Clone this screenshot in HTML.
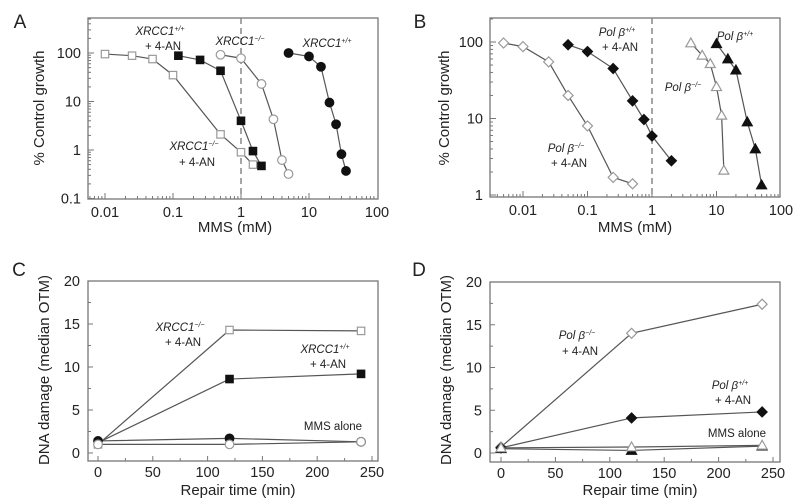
<!DOCTYPE html>
<html><head><meta charset="utf-8">
<style>
html,body{margin:0;padding:0;background:#fff;}
svg{display:block;font-family:"Liberation Sans",sans-serif;}
</style></head>
<body>
<svg id="fig" width="800" height="504" viewBox="0 0 800 504" xmlns="http://www.w3.org/2000/svg"></svg>
<script>
// ---- Panel A data ----
const aOpenSqX=[0.01,0.025,0.05,0.1,0.5,1,1.5];
const aOpenSqY=[95,88,75,35,2.1,0.9,0.5];
const aFillSqX=[0.12,0.25,0.5,1,1.5,2];
const aFillSqY=[88,72,43,4,0.95,0.47];
const aOpenCiX=[0.5,1,2,3,4,5];
const aOpenCiY=[92,78,23,4.3,0.62,0.32];
const aFillCiX=[5,10,15,20,25,30,35];
const aFillCiY=[100,85,52,9.5,3.4,0.82,0.37];
const aXTicks=[0.01,0.1,1,10,100];
const aXLabels=["0.01","0.1","1","10","100"];
const aYTicks=[0.1,1,10,100];
const aYLabels=["0.1","1","10","100"];
// ---- Panel B data ----
const bOpenDiX=[0.005,0.01,0.025,0.05,0.1,0.25,0.5];
const bOpenDiY=[97,87,55,20,8,1.7,1.4];
const bFillDiX=[0.05,0.1,0.25,0.5,0.75,1,2];
const bFillDiY=[92,75,45,17,9.7,5.9,2.8];
const bOpenTrX=[4,6,8,10,12,13];
const bOpenTrY=[97,67,52,26,11,2.1];
const bFillTrX=[10,15,20,30,40,50];
const bFillTrY=[95,60,43,9,4,1.35];
const bYTicks=[1,10,100];
const bYLabels=["1","10","100"];
// ---- Panel C data ----
const timeX=[0,120,240];
const cOpenSqY=[1.0,14.3,14.2];
const cFillSqY=[1.2,8.6,9.2];
const cFillCiY=[1.4,1.7,1.3];
const cOpenCiY=[1.0,1.0,1.3];
// ---- Panel D data ----
const dOpenDiY=[0.7,14,17.4];
const dFillDiY=[0.6,4.1,4.8];
const dOpenTrY=[0.6,0.7,0.9];
const dFillTrY=[0.5,0.3,0.8];
const linXTicks=[0,50,100,150,200,250];
const linYTicks=[0,5,10,15,20];

const NS="http://www.w3.org/2000/svg";
const svg=document.getElementById('fig');
function el(tag,attrs,parent){const e=document.createElementNS(NS,tag);for(const k in attrs)e.setAttribute(k,attrs[k]);(parent||svg).appendChild(e);return e;}
function txt(x,y,s,size,anchor,parent,extra){const t=el('text',Object.assign({x:x,y:y,'font-size':size,'text-anchor':anchor||'middle',fill:'#222'},extra||{}),parent);t.textContent=s;return t;}

const L=Math.log10;
const axA={x:v=>241+68*L(v), y:v=>150+48.5*(0-L(v)), box:[88,18,378,199]};
const axB={x:v=>652+64.5*L(v), y:v=>195-76.5*L(v), box:[490,18,780,197]};
const axC={x:v=>98+v*274/250, y:v=>453-v*8.6, box:[88,281,378,461]};
const axD={x:v=>501+v*272/250, y:v=>453-v*8.55, box:[490,282,780,462]};

function box(ax,name){const b=ax.box;const r=el('rect',{x:b[0],y:b[1],width:b[2]-b[0],height:b[3]-b[1],fill:'none',stroke:'#777','stroke-width':1.3});

}

function marker(g,shape,x,y,filled){
  const f=filled?'#111':'#fff', s=filled?'#111':'#999', sw=1.2;
  let m;
  if(shape==='sq') m=el('rect',{x:x-3.7,y:y-3.7,width:7.4,height:7.4,fill:f,stroke:s,'stroke-width':sw},g);
  else if(shape==='ci') m=el('circle',{cx:x,cy:y,r:4.3,fill:f,stroke:s,'stroke-width':sw},g);
  else if(shape==='di') m=el('polygon',{points:`${x},${y-5} ${x+5},${y} ${x},${y+5} ${x-5},${y}`,fill:f,stroke:s,'stroke-width':sw},g);
  else m=el('polygon',{points:`${x},${y-5} ${x+5},${y+3.8} ${x-5},${y+3.8}`,fill:f,stroke:s,'stroke-width':sw},g);
  
  
}
function series(ax,xs,ys,shape,filled,name){
  const g=el('g',{});
  
  
  const pts=xs.map((v,i)=>ax.x(v)+','+ax.y(ys[i])).join(' ');
  el('polyline',{points:pts,fill:'none',stroke:'#555','stroke-width':1.2},g);
  xs.forEach((v,i)=>marker(g,shape,ax.x(v),ax.y(ys[i]),filled));
}
function logAxes(ax,xmin,xmax,ymin,ymax,xt,xl,yt,yl,pfx){
  const b=ax.box;const g=el('g',{stroke:'#777','stroke-width':1});
  
  
  for(let d=Math.floor(L(xmin));d<L(xmax);d++){for(let k=1;k<10;k++){const v=k*Math.pow(10,d);if(v<xmin||v>xmax)continue;const x=ax.x(v);el('line',{x1:x,x2:x,y1:b[3],y2:b[3]-(k===1?6:3)},g);}}
  for(let d=Math.floor(L(ymin));d<L(ymax);d++){for(let k=1;k<10;k++){const v=k*Math.pow(10,d);if(v<ymin||v>ymax)continue;const y=ax.y(v);el('line',{x1:b[0],x2:b[0]+(k===1?6:3),y1:y,y2:y},g);}}
  xt.forEach((v,i)=>{const t=txt(ax.x(v),b[3]+18,xl[i],14.5);});
  yt.forEach((v,i)=>{const t=txt(b[0]-7,ax.y(v)+5,yl[i],14.5,'end');});
  const d=el('line',{x1:ax.x(1),x2:ax.x(1),y1:b[1],y2:b[3],stroke:'#888','stroke-width':1.5,'stroke-dasharray':'6,4'});
  
  
}
function linAxes(ax,pfx){
  const b=ax.box;const g=el('g',{stroke:'#777','stroke-width':1});
  
  
  for(let v=0;v<=250;v+=25){const x=ax.x(v);el('line',{x1:x,x2:x,y1:b[3],y2:b[3]-(v%50===0?5:3)},g);}
  for(let v=0;v<=20;v+=2.5){const y=ax.y(v);el('line',{x1:b[0],x2:b[0]+(v%5===0?5:3),y1:y,y2:y},g);}
  linXTicks.forEach(v=>{const t=txt(ax.x(v),b[3]+16,String(v),14.5);});
  linYTicks.forEach(v=>{const t=txt(b[0]-8,ax.y(v)+5,String(v),14.5,'end');});
}
function ytitle(x,y,s,name){const t=txt(x,y,s,15,'middle',null,{transform:`rotate(-90 ${x} ${y})`});}
function label(x,y,s,name,italic,size){const t=el('text',{x:x,y:y,'font-size':size||11.5,'text-anchor':'middle',fill:'#222'});
  
  if(italic){const a=el('tspan',{'font-style':'italic'},t);a.textContent=italic[0];const s2=el('tspan',{'font-style':'italic','font-size':7,dy:-4},t);s2.textContent=italic[1];}else t.textContent=s;return t;}

[['A',20,28],['B',420,28],['C',19,276],['D',419,276]].forEach(p=>{const t=txt(p[1],p[2],p[0],19);});

// ---- Panel A ----
box(axA,'panel-a-plot-area');
logAxes(axA,0.0056,100,0.1,500,aXTicks,aXLabels,aYTicks,aYLabels,'panel-a');
series(axA,aOpenSqX,aOpenSqY,'sq',false,'series-xrcc1-ko-4an');
series(axA,aFillSqX,aFillSqY,'sq',true,'series-xrcc1-wt-4an');
series(axA,aOpenCiX,aOpenCiY,'ci',false,'series-xrcc1-ko');
series(axA,aFillCiX,aFillCiY,'ci',true,'series-xrcc1-wt');
ytitle(44,108,'% Control growth','panel-a-y-axis-title');
{const t=txt(235,232,'MMS (mM)',15);}
label(160,35,null,'label-xrcc1-wt-4an',['XRCC1','+/+']);label(163,50,'+ 4-AN','label-4an');
label(240,45,null,'label-xrcc1-ko',['XRCC1','−/−']);
label(327,47,null,'label-xrcc1-wt',['XRCC1','+/+']);
label(194,150,null,'label-xrcc1-ko-4an',['XRCC1','−/−']);label(197,166,'+ 4-AN','label-4an');

// ---- Panel B ----
box(axB,'panel-b-plot-area');
logAxes(axB,0.0037,100,1,200,aXTicks,aXLabels,bYTicks,bYLabels,'panel-b');
series(axB,bOpenDiX,bOpenDiY,'di',false,'series-polb-ko-4an');
series(axB,bFillDiX,bFillDiY,'di',true,'series-polb-wt-4an');
series(axB,bOpenTrX,bOpenTrY,'tr',false,'series-polb-ko');
series(axB,bFillTrX,bFillTrY,'tr',true,'series-polb-wt');
ytitle(449,108,'% Control growth','panel-b-y-axis-title');
{const t=txt(635,232,'MMS (mM)',15);}
label(617,36,null,'label-polb-wt-4an',['Pol β','+/+']);label(620,51,'+ 4-AN','label-4an');
label(735,40,null,'label-polb-wt',['Pol β','+/+']);
label(683,91,null,'label-polb-ko',['Pol β','−/−']);
label(566,152,null,'label-polb-ko-4an',['Pol β','−/−']);label(569,167,'+ 4-AN','label-4an');

// ---- Panel C ----
box(axC,'panel-c-plot-area');
linAxes(axC,'panel-c');
series(axC,timeX,cOpenSqY,'sq',false,'series-c-xrcc1-ko-4an');
series(axC,timeX,cFillSqY,'sq',true,'series-c-xrcc1-wt-4an');
series(axC,timeX,cFillCiY,'ci',true,'series-c-mms-wt');
series(axC,timeX,cOpenCiY,'ci',false,'series-c-mms-ko');
ytitle(49,370,'DNA damage (median OTM)','panel-c-y-axis-title');
{const t=txt(238,495,'Repair time (min)',15);}
label(180,331,null,'label-c-xrcc1-ko-4an',['XRCC1','−/−']);label(183,346,'+ 4-AN','label-4an');
label(325,353,null,'label-c-xrcc1-wt-4an',['XRCC1','+/+']);label(328,368,'+ 4-AN','label-4an');
label(333,430,'MMS alone','label-c-mms-alone');

// ---- Panel D ----
box(axD,'panel-d-plot-area');
linAxes(axD,'panel-d');
series(axD,timeX,dOpenDiY,'di',false,'series-d-polb-ko-4an');
series(axD,timeX,dFillDiY,'di',true,'series-d-polb-wt-4an');
series(axD,timeX,dFillTrY,'tr',true,'series-d-mms-wt');
series(axD,timeX,dOpenTrY,'tr',false,'series-d-mms-ko');
ytitle(451,370,'DNA damage (median OTM)','panel-d-y-axis-title');
{const t=txt(640,495,'Repair time (min)',15);}
label(577,339,null,'label-d-polb-ko-4an',['Pol β','−/−']);label(580,355,'+ 4-AN','label-4an');
label(730,389,null,'label-d-polb-wt-4an',['Pol β','+/+']);label(733,404,'+ 4-AN','label-4an');
label(737,437,'MMS alone','label-d-mms-alone');
</script>
</body></html>
